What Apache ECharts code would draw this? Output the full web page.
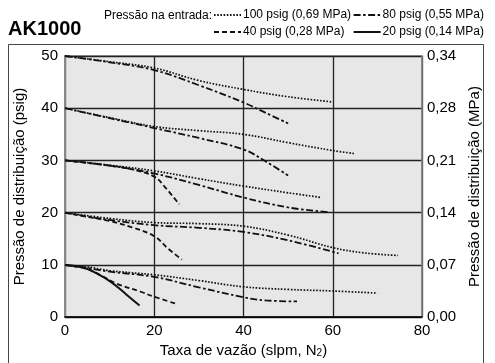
<!DOCTYPE html>
<html><head><meta charset="utf-8">
<script src="https://cdn.jsdelivr.net/npm/echarts@6/dist/echarts.min.js"></script>
<style>html,body{margin:0;padding:0;background:#fff}#c{width:495px;height:363px}</style>
</head><body><div id="c"></div>
<script>
// Tick labels
const rightAxisLabels = ['0,00', '0,07', '0,14', '0,21', '0,28', '0,34'];
const legendNames = ['100 psig (0,69 MPa)', '80 psig (0,55 MPa)', '40 psig (0,28 MPa)', '20 psig (0,14 MPa)'];

// Curves: [flow slpm, outlet psig]
const inlet100_set50 = [[0,50],[10,48.9],[20,47.7],[30,45.3],[40,43.6],[50,42.2],[60,41.2]];
const inlet80_set50  = [[0,50],[10,48.8],[20,47.3],[30,44.4],[40,41.1],[45,39.1],[50,37.1]];
const inlet100_set40 = [[0,40],[10,38.2],[20,36.5],[30,35.7],[40,35.0],[50,33.4],[60,31.9],[65,31.3]];
const inlet80_set40  = [[0,40],[10,38.1],[20,36.2],[30,34.3],[40,32.1],[45,29.8],[50,27.1]];
const inlet100_set30 = [[0,30],[10,29.1],[20,28.0],[30,26.5],[40,25.1],[50,23.8],[57.5,22.9]];
const inlet80_set30  = [[0,30],[10,29.0],[20,27.5],[30,25.3],[40,22.9],[50,21.0],[59,20.1]];
const inlet40_set30  = [[0,30],[10,29.0],[15,28.3],[20,26.9],[22.5,24.8],[25.6,21.6]];
const inlet100_set20 = [[0,20],[10,18.9],[20,18.1],[30,17.9],[40,17.4],[50,15.7],[60,13.3],[67,12.3],[74.6,11.8]];
const inlet80_set20  = [[0,20],[10,18.6],[20,17.6],[30,17.1],[40,16.3],[50,14.7],[61.3,12.2]];
const inlet40_set20  = [[0,20],[5,19.2],[10,18.4],[15,17.2],[20,15.5],[23,13.2],[26.2,11.0]];
const inlet100_set10 = [[0,10],[5,9.6],[10,8.9],[20,8.1],[30,7.0],[40,5.8],[50,5.3],[60,5.0],[70,4.6]];
const inlet80_set10  = [[0,10],[5,9.4],[10,8.7],[20,7.7],[30,5.7],[40,3.8],[45,3.2],[52,3.0]];
const inlet40_set10  = [[0,10],[5,9.2],[8,8.0],[11.6,6.4],[16.8,4.9],[20,3.9],[24.7,2.6]];
const inlet20_set10  = [[0,10],[4,9.5],[7,8.4],[10.5,6.6],[13.8,4.3],[16.7,2.2]];

const FONT = "'Liberation Sans', Arial, Helvetica, sans-serif";
const styles = {
  '100 psig (0,69 MPa)': {type: [1.6, 1.6], width: 1.7},
  '80 psig (0,55 MPa)':  {type: [7, 2.5, 2.5, 2.5], width: 1.8},
  '40 psig (0,28 MPa)':  {type: [5, 3], width: 1.8},
  '20 psig (0,14 MPa)':  {type: 'solid', width: 2}
};
function mk(name, data) {
  return {
    type: 'line', name: name, data: data, symbol: 'none', smooth: 0.4,
    lineStyle: Object.assign({color: '#111'}, styles[name]), itemStyle: {color: '#111'},
    silent: true, z: 5
  };
}
const series = [
  mk(legendNames[0], inlet100_set50), mk(legendNames[1], inlet80_set50),
  mk(legendNames[0], inlet100_set40), mk(legendNames[1], inlet80_set40),
  mk(legendNames[0], inlet100_set30), mk(legendNames[1], inlet80_set30), mk(legendNames[2], inlet40_set30),
  mk(legendNames[0], inlet100_set20), mk(legendNames[1], inlet80_set20), mk(legendNames[2], inlet40_set20),
  mk(legendNames[0], inlet100_set10), mk(legendNames[1], inlet80_set10), mk(legendNames[2], inlet40_set10),
  mk(legendNames[3], inlet20_set10)
];

function leg(name, pos) {
  return Object.assign({
    data: [name], padding: 0, itemWidth: 27, itemHeight: 14, itemGap: 0,
    itemStyle: {opacity: 0},
    textStyle: {fontSize: 12, color: '#000', fontFamily: FONT, padding: [0, 0, 0, -3]},
    selectedMode: false
  }, pos);
}

const chart = echarts.init(document.getElementById('c'), null, {renderer: 'canvas'});
chart.setOption({
  animation: false,
  textStyle: {fontFamily: FONT},
  title: [{text: 'AK1000', left: 8, top: 19, padding: 0,
    textStyle: {fontSize: 20, fontWeight: 'bold', color: '#000', fontFamily: FONT}}],
  legend: [
    leg(legendNames[0], {left: 213, top: 9}),
    leg(legendNames[1], {right: 11, top: 9}),
    leg(legendNames[2], {left: 213, top: 26}),
    leg(legendNames[3], {right: 11, top: 26})
  ],
  graphic: [
    {type: 'text', x: 212, y: 16, silent: true,
      style: {text: 'Pressão na entrada:', align: 'right', verticalAlign: 'middle',
        fontSize: 12, fontFamily: FONT, fill: '#000'}},
    {type: 'rect', silent: true, z: -1,
      shape: {x: 8.5, y: 44.5, width: 475, height: 340},
      style: {fill: 'none', stroke: '#444', lineWidth: 1}}
  ],
  grid: {left: 65, right: 73, top: 56, bottom: 40, show: true,
    backgroundColor: '#e7e7e7', borderColor: '#888', borderWidth: 1.5},
  xAxis: {
    type: 'value', min: 0, max: 80, interval: 20,
    name: 'Taxa de vazão (slpm, N{s|2})', nameLocation: 'middle', nameGap: 24,
    nameTextStyle: {fontSize: 15, color: '#000', fontFamily: FONT,
      rich: {s: {fontSize: 10, color: '#000', fontFamily: FONT, padding: [5, 0, 0, 0]}}},
    axisLine: {show: true, lineStyle: {color: '#000', width: 1.5}},
    axisTick: {show: false},
    axisLabel: {fontSize: 15, color: '#000', margin: 6, fontFamily: FONT},
    splitLine: {show: true, lineStyle: {color: '#222', width: 1.3}}
  },
  yAxis: [
    {
      type: 'value', min: 0, max: 50, interval: 10, position: 'left',
      name: 'Pressão de distribuição (psig)', nameLocation: 'middle', nameGap: 38, nameRotate: 90,
      nameTextStyle: {fontSize: 15, color: '#000', fontFamily: FONT},
      axisLine: {show: true, lineStyle: {color: '#888', width: 2}},
      axisTick: {show: false},
      axisLabel: {fontSize: 15, color: '#000', margin: 7, fontFamily: FONT},
      splitLine: {show: true, lineStyle: {color: '#222', width: 1.3}}
    },
    {
      type: 'value', min: 0, max: 50, interval: 10, position: 'right',
      name: 'Pressão de distribuição (MPa)', nameLocation: 'middle', nameGap: 35, nameRotate: 90,
      nameTextStyle: {fontSize: 15, color: '#000', fontFamily: FONT},
      axisLine: {show: true, lineStyle: {color: '#888', width: 1.5}},
      axisTick: {show: false},
      axisLabel: {fontSize: 15, color: '#000', margin: 5, fontFamily: FONT,
        formatter: function (v) { return rightAxisLabels[Math.round(v / 10)]; }},
      splitLine: {show: false}
    }
  ],
  series: series
});
</script></body></html>
